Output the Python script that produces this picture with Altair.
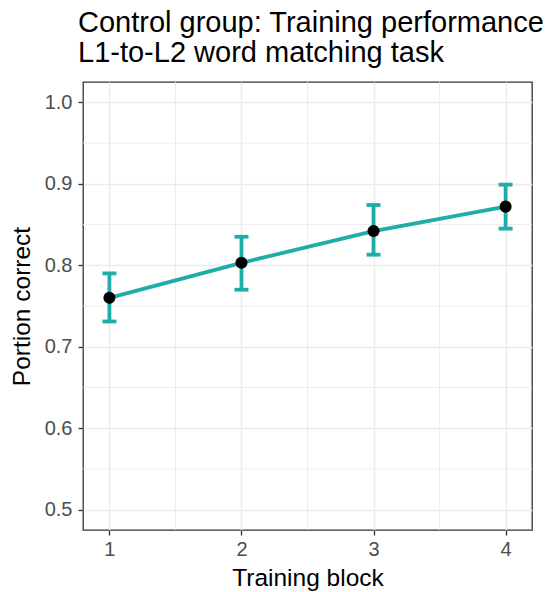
import altair as alt
import pandas as pd

blocks = [1, 2, 3, 4]
means = [0.760, 0.803, 0.842, 0.872]
lows = [0.731, 0.770, 0.813, 0.845]
highs = [0.790, 0.835, 0.874, 0.899]
y_major = [0.5, 0.6, 0.7, 0.8, 0.9, 1.0]
y_minor = [0.55, 0.65, 0.75, 0.85, 0.95]
x_minor = [1.5, 2.5, 3.5]

df = pd.DataFrame({"block": blocks, "mean": means, "lo": lows, "hi": highs})
ymin = pd.DataFrame({"y": y_minor})
xmin = pd.DataFrame({"x": x_minor})

FONT = "Liberation Sans"
TEAL = "#1FADA8"

xs = alt.Scale(domain=[0.8, 4.2], nice=False, zero=False)
ys = alt.Scale(domain=[0.475, 1.025], nice=False, zero=False)

common = dict(grid=True, gridColor="#EBEBEB", gridWidth=1.5, tickColor="#333333", tickSize=5,
              tickWidth=1.3, labelColor="#4D4D4D", labelFontSize=20, labelFont=FONT,
              titleFont=FONT, titleFontSize=24.5, titleFontWeight="normal", titleColor="black",
              domain=False)
xax = alt.Axis(values=blocks, title="Training block", format="d",
               labelPadding=4, titlePadding=7, **common)
yax = alt.Axis(values=y_major, title="Portion correct", format=".1f",
               labelPadding=6, titlePadding=10, **common)

minor_y = alt.Chart(ymin).mark_rule(color="#EBEBEB", strokeWidth=0.9).encode(
    y=alt.Y("y:Q", scale=ys, axis=yax))
minor_x = alt.Chart(xmin).mark_rule(color="#EBEBEB", strokeWidth=0.9).encode(
    x=alt.X("x:Q", scale=xs, axis=xax))

base = alt.Chart(df)
line = base.mark_line(color=TEAL, strokeWidth=3.8).encode(
    x=alt.X("block:Q", scale=xs, axis=xax), y=alt.Y("mean:Q", scale=ys, axis=yax))
bars = base.mark_rule(color=TEAL, strokeWidth=3.8).encode(
    x=alt.X("block:Q", scale=xs), y=alt.Y("lo:Q", scale=ys), y2="hi:Q")
cap_lo = base.mark_tick(color=TEAL, thickness=3.8, size=14, orient="horizontal", opacity=1).encode(
    x=alt.X("block:Q", scale=xs), y=alt.Y("lo:Q", scale=ys))
cap_hi = base.mark_tick(color=TEAL, thickness=3.8, size=14, orient="horizontal", opacity=1).encode(
    x=alt.X("block:Q", scale=xs), y=alt.Y("hi:Q", scale=ys))
pts = base.mark_circle(color="black", opacity=1, size=145).encode(
    x=alt.X("block:Q", scale=xs), y=alt.Y("mean:Q", scale=ys))

chart = alt.layer(minor_y, minor_x, line, bars, cap_lo, cap_hi, pts).properties(
    width=449, height=448, background="white",
    title=alt.TitleParams(["Control group: Training performance", "L1-to-L2 word matching task"],
                          anchor="start", frame="group", font=FONT, fontSize=29,
                          fontWeight="normal", color="black", lineHeight=30, offset=14, dx=-5),
    padding={"left": 9, "top": 8, "right": 5, "bottom": 5},
).configure_view(stroke="#333333", strokeWidth=1.3)

chart.save("out.html", embed_options={"renderer": "svg", "actions": False})
